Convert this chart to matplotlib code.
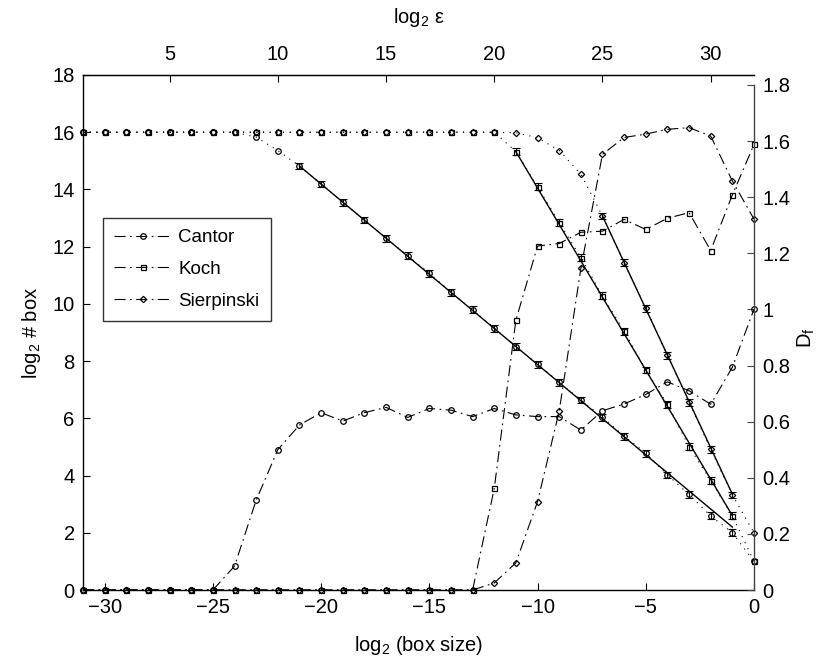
import matplotlib.pyplot as plt
import numpy as np

plt.rcParams['font.family'] = 'Liberation Sans'
plt.rcParams['mathtext.fontset'] = 'custom'
plt.rcParams['mathtext.rm'] = 'Liberation Sans'
plt.rcParams['mathtext.it'] = 'Liberation Sans:italic'

# log2 of box size, -31 ... 0
k = np.arange(-31, 1)

# log2 of number of occupied boxes
cantor_box = [16]*8 + [15.83, 15.36, 14.82, 14.19, 13.55, 12.93, 12.30, 11.68, 11.07,
                       10.41, 9.79, 9.15, 8.51, 7.89, 7.26, 6.64, 6.04, 5.38, 4.78,
                       4.02, 3.34, 2.59, 2.00, 1.00]
koch_box = [16]*20 + [15.32, 14.10, 12.84, 11.62, 10.28, 9.05, 7.69, 6.49, 5.01,
                      3.82, 2.59, 1.00]
sierp_box = [16]*20 + [15.98, 15.81, 15.36, 14.54, 13.07, 11.44, 9.85, 8.21, 6.56,
                       4.92, 3.32, 2.00]

# local dimension estimate
cantor_df = [0]*7 + [0.085, 0.32, 0.50, 0.588, 0.632, 0.602, 0.632, 0.651, 0.615,
                     0.647, 0.641, 0.618, 0.647, 0.624, 0.618, 0.618, 0.570, 0.639,
                     0.663, 0.697, 0.742, 0.710, 0.662, 0.794, 1.001]
koch_df = [0]*19 + [0.362, 0.962, 1.226, 1.235, 1.275, 1.279, 1.321, 1.285, 1.325,
                    1.345, 1.21, 1.408, 1.588]
sierp_df = [0]*19 + [0.025, 0.097, 0.315, 0.637, 1.146, 1.553, 1.613, 1.625, 1.642,
                     1.648, 1.618, 1.458, 1.322]

# fitted scaling range (end points of the fit lines)
cantor_fit_x, cantor_fit_y = [-21, -1], [14.82, 2.20]
koch_fit_x, koch_fit_y = [-11, -1], [15.32, 2.60]
sierp_fit_x, sierp_fit_y = [-7, -1], [13.07, 3.35]
box_err = 0.12

names = ['Cantor', 'Koch', 'Sierpinski']
marks = ['o', 's', 'D']
msizes = [4, 3.6, 3.2]

fig = plt.figure(figsize=(8.31, 6.61), dpi=100)
ax1 = fig.add_axes([83/831, 71/661, 671/831, 515/661])
ax2 = fig.add_axes([83/831, 71/661, 671/831, 505/661])
ax2.patch.set_visible(False)

dotted = (0, (1, 5))
dashdot = (0, (10, 4, 1.5, 4))

boxes = [cantor_box, koch_box, sierp_box]
fits = [(cantor_fit_x, cantor_fit_y), (koch_fit_x, koch_fit_y), (sierp_fit_x, sierp_fit_y)]
for y, (fx, fy), m, ms in zip(boxes, fits, marks, msizes):
    y = np.array(y)
    ax1.plot(k, y, color='k', ls=dotted, lw=0.8, marker=m, mfc='none', mec='k',
             ms=ms, mew=0.9, clip_on=False)
    sel = (k >= fx[0]) & (k <= fx[1])
    ax1.errorbar(k[sel], y[sel], yerr=box_err, fmt='none', ecolor='k',
                 elinewidth=0.8, capsize=3, capthick=0.8)
    ax1.plot(fx, fy, 'k-', lw=1.0)

dfs = [cantor_df, koch_df, sierp_df]
for y, m, ms, name in zip(dfs, marks, msizes, names):
    ax2.plot(k, y, color='k', ls=dashdot, lw=0.8, marker=m, mfc='none', mec='k',
             ms=ms, mew=0.9, clip_on=False, label=name)

ax1.set_xlim(-31, 0)
ax1.set_ylim(0, 18)
ax1.set_xticks(np.arange(-30, 1, 5))
ax1.set_yticks(np.arange(0, 19, 2))
ax1.spines['right'].set_visible(False)
for s in ['top', 'left', 'bottom']:
    ax1.spines[s].set_linewidth(1.0)
ax1.tick_params(direction='in', length=5, width=0.8, labelsize=14.5, pad=6)
ax1.set_xlabel('log$_2$ (box size)', fontsize=14.5, labelpad=12)
ax1.set_ylabel('log$_2$ # box', fontsize=14.5, labelpad=7)

top = ax1.secondary_xaxis('top', functions=(lambda x: x + 32, lambda x: x - 32))
top.set_xticks(np.arange(5, 31, 5))
top.tick_params(direction='in', length=5, width=0.8, labelsize=14.5, pad=8)
top.set_xlabel('log$_2$ ε', fontsize=14.5, labelpad=16)

ax2.set_xlim(-31, 0)
ax2.set_ylim(0, 1.8)
ax2.set_xticks([])
ax2.yaxis.tick_right()
ax2.yaxis.set_label_position('right')
df_ticks = np.arange(0, 1.81, 0.2)
ax2.set_yticks(df_ticks)
ax2.set_yticklabels(['0', '0.2', '0.4', '0.6', '0.8', '1', '1.2', '1.4', '1.6', '1.8'])
for s in ['top', 'left', 'bottom']:
    ax2.spines[s].set_visible(False)
ax2.spines['right'].set_color('#444444')
ax2.spines['right'].set_linewidth(1.0)
ax2.tick_params(direction='in', length=5, width=0.8, labelsize=14.5, pad=6,
                color='#444444')
ax2.set_ylabel('D$_\\mathrm{f}$', fontsize=14.5, labelpad=4)

leg = ax2.legend(loc='upper left', bbox_to_anchor=(0.030, 0.737), borderaxespad=0,
                 fontsize=13.5, frameon=True, fancybox=False, handlelength=3.0,
                 handletextpad=0.4, labelspacing=0.78, borderpad=0.6)
leg.get_frame().set_edgecolor('k')
leg.get_frame().set_linewidth(1.0)

fig.savefig('out.png', dpi=100)
